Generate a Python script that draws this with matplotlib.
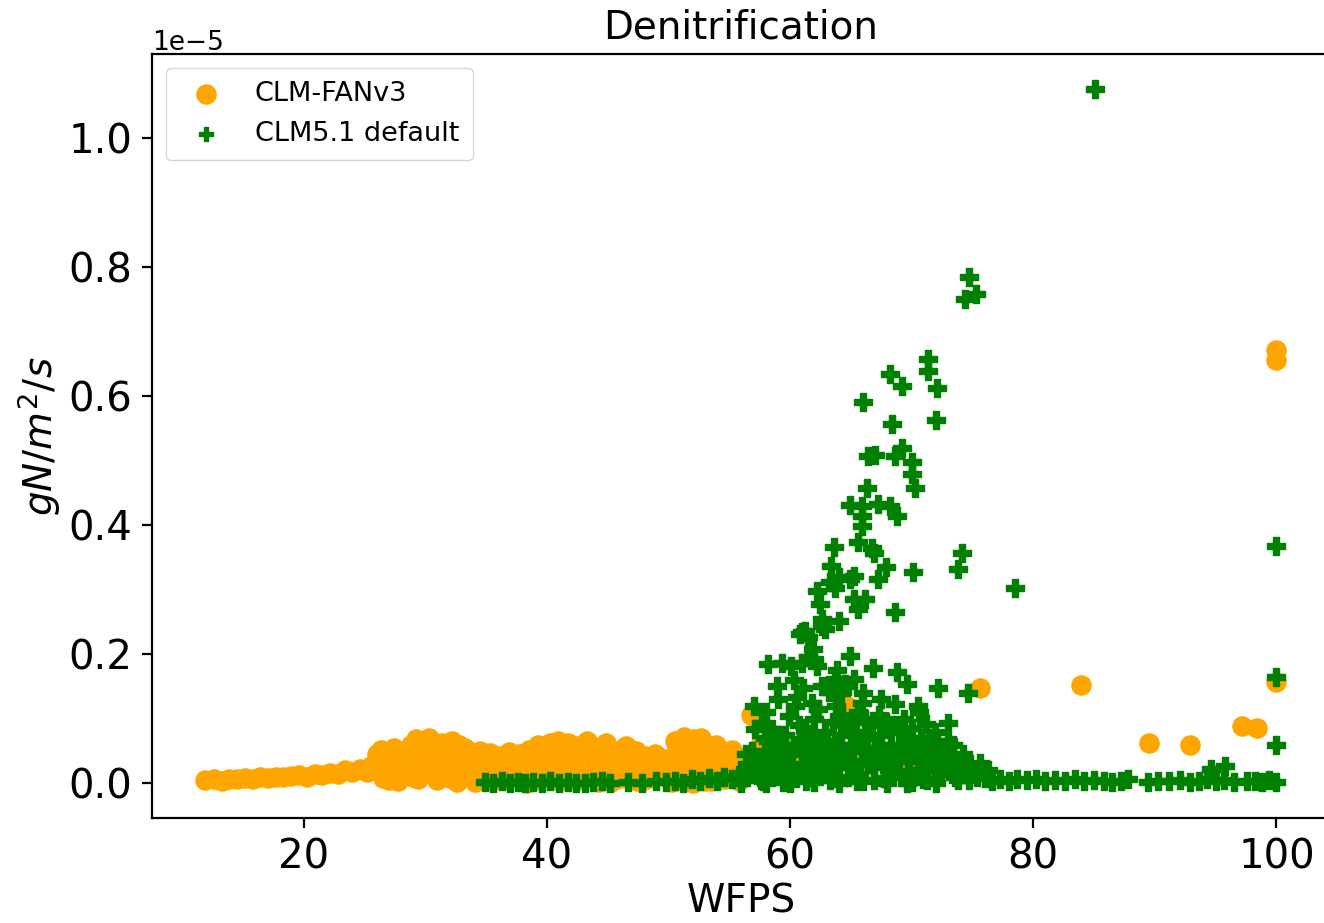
import numpy as np
import matplotlib
matplotlib.use('Agg')
import matplotlib.pyplot as plt

# CLM-FANv3 (orange circles), y in units of 1e-5 gN/m2/s
fan_x = [11.9, 12.6, 13.3, 13.9, 14.5, 15.2, 15.8, 16.4, 17.1, 17.7, 18.3, 19.0, 19.6, 20.3, 20.9,
         21.5, 22.2, 22.8, 23.4, 24.0, 24.6, 25.2, 25.6,
         26.0, 26.4, 26.8, 27.2, 27.6, 28.0, 28.4, 28.8, 29.2, 29.6, 30.0, 30.3, 30.7, 31.0, 31.4,
         31.8, 32.2, 32.6, 33.0, 33.3, 33.7, 34.1, 34.5, 34.9, 35.3, 35.7, 36.1, 36.5, 36.9, 37.3,
         37.7, 38.1, 38.5, 38.9, 39.3, 39.7, 40.1, 40.5, 40.9, 41.3, 41.7, 42.1, 42.5, 42.9, 43.3,
         43.7, 44.1, 44.5, 44.9, 45.3, 45.7, 46.1, 46.5, 46.9, 47.3, 47.7, 48.1, 48.5, 48.9, 49.3,
         49.7, 50.1, 50.5, 50.9, 51.3, 51.7, 52.1, 52.5, 52.9, 53.3, 53.7, 54.1, 54.5, 55.0, 55.5, 56.0,
         27.0, 29.0, 30.5, 32.0, 35.0, 37.0, 39.0, 40.5, 42.5, 44.0, 46.0, 48.0, 51.0, 52.0, 54.0,
         28.5, 31.5, 33.5, 36.0, 38.0, 43.5, 47.0, 49.0, 53.5, 52.7, 53.9,
         26.5, 27.8, 29.4, 30.9, 32.6, 33.9, 35.5, 36.8, 38.4, 39.8, 41.1, 42.8, 44.3, 45.9, 47.4,
         48.8, 50.3, 51.7, 53.0, 54.6, 55.8,
         26.9, 28.2, 29.8, 31.2, 32.9, 34.3, 35.9, 37.5, 39.1, 40.7, 42.3, 43.9, 45.5, 47.1, 48.7,
         50.4, 51.9, 53.1, 54.8, 56.3,
         27.4, 28.9, 30.1, 31.6, 32.8, 34.0, 35.6, 37.1, 38.7, 40.3, 41.5, 43.0, 44.7, 46.3, 47.9,
         49.5, 50.7, 52.3, 53.6, 55.2,
         56.8, 57.5, 58.5, 59.5, 60.5, 61.5, 62.5, 63.5, 64.7, 65.5, 66.5, 68.1, 69.0, 70.0, 72.0,
         75.6, 83.9, 89.5, 92.9, 97.2, 98.4, 100.0, 100.0, 100.0]
fan_y = [0.005, 0.006, 0.004, 0.007, 0.006, 0.008, 0.006, 0.009, 0.008, 0.010, 0.009, 0.011, 0.012, 0.010, 0.014,
         0.013, 0.016, 0.015, 0.020, 0.018, 0.022, 0.017, 0.028,
         0.045, 0.052, 0.040, 0.025, 0.050, 0.012, 0.035, 0.060, 0.068, 0.045, 0.020, 0.070, 0.055, 0.005, 0.062,
         0.030, 0.066, 0.048, 0.015, 0.055, 0.040, 0.002, 0.050, 0.030, 0.047, 0.018, 0.042, 0.005, 0.048, 0.028,
         0.045, 0.010, 0.052, 0.035, 0.060, 0.020, 0.055, 0.040, 0.066, 0.008, 0.062, 0.030, 0.058, 0.045, 0.065,
         0.015, 0.055, 0.035, 0.062, 0.002, 0.050, 0.025, 0.058, 0.040, 0.050, 0.012, 0.042, 0.030, 0.045, 0.020,
         0.038, 0.005, 0.065, 0.050, 0.072, 0.030, 0.068, 0.045, 0.060, 0.020, 0.055, 0.040, 0.035, 0.045, 0.030, 0.020,
         0.005, 0.010, 0.030, 0.008, 0.010, 0.015, 0.005, 0.012, 0.005, 0.025, 0.008, 0.005, 0.012, 0.000, 0.010,
         0.025, 0.045, 0.030, 0.032, 0.030, 0.045, 0.028, 0.012, 0.004, 0.070, 0.060,
         0.008, 0.003, 0.006, 0.010, 0.002, 0.012, 0.004, 0.009, 0.001, 0.011, 0.003, 0.010, 0.002, 0.012, 0.004,
         0.008, 0.002, 0.009, 0.003, 0.006, 0.004,
         0.022, 0.030, 0.028, 0.020, 0.033, 0.022, 0.028, 0.020, 0.030, 0.025, 0.020, 0.032, 0.022, 0.018, 0.022,
         0.028, 0.020, 0.030, 0.018, 0.030,
         0.055, 0.048, 0.058, 0.052, 0.060, 0.045, 0.038, 0.040, 0.048, 0.062, 0.052, 0.055, 0.048, 0.050, 0.040,
         0.032, 0.058, 0.063, 0.050, 0.052,
         0.105, 0.060, 0.040, 0.055, 0.030, 0.050, 0.065, 0.025, 0.120, 0.045, 0.030, 0.088, 0.020, 0.040, 0.015,
         0.147, 0.152, 0.062, 0.060, 0.088, 0.085, 0.157, 0.671, 0.655]

# CLM5.1 default (green plus)
clm_x = [34.9, 35.6, 36.3, 37.0, 37.6, 38.2, 38.9, 39.6, 40.3, 41.0, 41.7, 42.4, 43.1, 43.8, 44.5,
         45.2, 46.7, 47.8, 49.0, 49.8, 50.5, 51.2, 51.9, 52.6, 53.3, 54.0, 54.6, 55.2, 55.8,
         56.2, 56.5, 56.9, 57.1, 57.3, 57.6, 57.7, 57.9, 58.2, 58.5, 58.6, 58.9, 59.2, 59.4, 59.6,
         59.9, 60.0, 60.2, 60.4, 60.5, 60.8, 61.0, 61.2, 61.4, 61.6, 61.8, 62.0, 62.1, 62.3, 62.5,
         62.6, 62.9, 63.1, 63.3, 63.5, 63.7, 63.8, 64.0, 64.2, 64.4, 64.6, 64.8, 65.0, 65.2, 65.4,
         65.6, 65.7, 65.9, 66.0, 66.3, 66.5, 66.7, 66.9, 67.1, 67.4, 67.6, 67.9, 68.1, 68.3, 68.6,
         68.8, 69.0, 69.2, 69.5, 69.7, 70.0, 70.2, 70.5, 70.8, 71.0, 71.2, 71.3, 71.5, 71.8, 72.1,
         72.4, 72.5, 72.8, 73.2, 73.6, 74.0, 74.3, 74.7, 75.2, 75.6, 74.9, 58.0, 60.0, 62.0, 64.0,
         66.0, 68.0, 70.0, 72.0, 73.0,
         56.0, 56.7, 57.4, 58.1, 58.8, 59.5, 60.3, 60.9, 61.6, 62.3, 62.8, 63.4, 64.1, 64.7, 65.3,
         65.8, 66.4, 66.9, 67.5, 68.0, 68.5, 69.1, 69.8, 70.4, 71.1, 71.7, 72.3, 72.9, 73.5, 74.2,
         74.8, 75.4, 76.3, 56.4, 57.9, 59.1, 60.7, 61.9, 63.0, 64.3, 65.1, 66.2, 67.3, 68.4, 69.4,
         70.6, 71.9, 73.4, 70.9, 73.8, 69.6, 67.7, 65.5, 63.6, 61.3, 59.7, 57.8,
         57.0, 58.0, 59.0, 60.3, 62.6, 63.9, 66.0, 67.5, 70.5, 73.0, 61.8, 64.2,
         58.9, 61.1, 60.6, 59.3, 60.1, 61.0, 61.5, 61.9, 62.0, 62.2, 63.7, 64.5, 65.3, 63.2, 64.8,
         64.9, 66.8, 68.8, 69.6, 72.2, 74.6, 58.2,
         61.0, 61.5, 60.8, 61.2, 62.5, 62.6, 64.0, 62.9, 62.6, 65.3, 66.2, 65.6, 68.6, 62.2, 63.7,
         63.3, 64.0, 64.9, 65.3, 63.4, 67.9, 67.25, 70.1, 73.8, 74.1, 78.5, 63.6, 65.6, 66.7, 66.9,
         65.9, 65.9, 68.8, 64.9, 65.9, 67.25, 68.2, 66.3, 70.25, 70.0, 70.0, 66.4, 67.0, 68.6, 69.2,
         68.4, 72.0, 66.0, 68.2, 69.2, 71.35, 71.35, 72.1, 74.75, 74.35, 75.3, 85.05,
         76.0, 76.6, 77.3, 78.0, 78.7, 79.5, 80.2, 81.0, 81.8, 82.6, 83.4, 84.2, 85.0, 85.8, 86.5,
         87.2, 87.8, 89.4, 90.3, 91.2, 92.1, 92.9, 93.6, 94.3, 95.0, 95.7, 96.5, 97.6, 98.2, 98.8,
         99.4, 100.0, 94.6, 95.8, 100.0, 100.0, 100.0]
clm_y = [0.002, 0.000, 0.003, 0.001, 0.002, 0.000, 0.002, 0.001, 0.003, 0.000, 0.002, 0.001, 0.000, 0.002, 0.003,
         0.001, 0.002, 0.000, 0.003, 0.002, 0.004, 0.001, 0.006, 0.003, 0.008, 0.004, 0.010, 0.006, 0.012,
         0.010, 0.030, 0.050, 0.084, 0.020, 0.005, 0.094, 0.040, 0.065, 0.084, 0.015, 0.035, 0.055, 0.002, 0.075,
         0.104, 0.025, 0.045, 0.120, 0.008, 0.065, 0.030, 0.085, 0.050, 0.010, 0.070, 0.099, 0.035, 0.115, 0.060,
         0.015, 0.080, 0.040, 0.005, 0.095, 0.055, 0.120, 0.025, 0.075, 0.045, 0.090, 0.010, 0.060, 0.035, 0.080,
         0.110, 0.015, 0.125, 0.050, 0.070, 0.030, 0.090, 0.005, 0.055, 0.075, 0.040, 0.095, 0.020, 0.060, 0.122,
         0.045, 0.080, 0.010, 0.065, 0.035, 0.085, 0.050, 0.020, 0.070, 0.040, 0.091, 0.005, 0.055, 0.030, 0.066,
         0.015, 0.045, 0.025, 0.040, 0.010, 0.030, 0.015, 0.005, 0.020, 0.032, 0.019, 0.000, 0.000, 0.002, 0.000,
         0.003, 0.000, 0.002, 0.000, 0.066,
         0.000, 0.015, 0.035, 0.025, 0.050, 0.030, 0.060, 0.015, 0.040, 0.025, 0.050, 0.030, 0.060, 0.035, 0.020,
         0.065, 0.045, 0.025, 0.060, 0.040, 0.025, 0.055, 0.015, 0.045, 0.025, 0.060, 0.040, 0.055, 0.025, 0.045,
         0.030, 0.010, 0.020, 0.045, 0.070, 0.075, 0.090, 0.055, 0.065, 0.105, 0.095, 0.100, 0.105, 0.090, 0.100,
         0.110, 0.080, 0.060, 0.006, 0.005, 0.000, 0.008, 0.004, 0.008, 0.003, 0.010, 0.004,
         0.120, 0.110, 0.130, 0.160, 0.150, 0.175, 0.140, 0.130, 0.120, 0.094, 0.125, 0.140,
         0.151, 0.148, 0.133, 0.187, 0.182, 0.187, 0.195, 0.208, 0.192, 0.182, 0.161, 0.153, 0.161, 0.141, 0.151,
         0.197, 0.179, 0.172, 0.153, 0.148, 0.140, 0.184,
         0.234, 0.226, 0.231, 0.236, 0.278, 0.254, 0.252, 0.239, 0.244, 0.285, 0.285, 0.270, 0.266, 0.298, 0.303,
         0.311, 0.319, 0.316, 0.321, 0.337, 0.335, 0.316, 0.327, 0.332, 0.356, 0.302, 0.366, 0.374, 0.365, 0.357,
         0.399, 0.414, 0.414, 0.431, 0.430, 0.433, 0.430, 0.457, 0.457, 0.479, 0.497, 0.507, 0.508, 0.507, 0.520,
         0.557, 0.563, 0.590, 0.634, 0.616, 0.657, 0.639, 0.612, 0.784, 0.750, 0.758, 1.076,
         0.008, 0.004, 0.006, 0.003, 0.007, 0.005, 0.006, 0.004, 0.005, 0.003, 0.006, 0.004, 0.005, 0.003, 0.002,
         0.004, 0.006, 0.002, 0.004, 0.003, 0.005, 0.002, 0.004, 0.006, 0.003, 0.005, 0.002, 0.003, 0.004, 0.002,
         0.005, 0.002, 0.022, 0.027, 0.059, 0.164, 0.368]

fig = plt.figure(figsize=(13.24, 9.23), dpi=100)
# the right spine sits just past the image edge in the reference
ax = fig.add_axes([0.1148, 0.1138, 0.8897, 0.8277])

ax.scatter(fan_x, np.array(fan_y) * 1e-5, s=190, marker='o', color='orange', label='CLM-FANv3')
ax.scatter(clm_x, np.array(clm_y) * 1e-5, s=170, marker='P', color='green', label='CLM5.1 default')

ax.set_xlim(7.53, 104.4)
ax.set_title('Denitrification', fontsize=28, pad=11)
ax.set_xlabel('WFPS', fontsize=28)
ax.set_ylabel('$gN/m^2/s$', fontsize=28)
ax.set_xticks([20, 40, 60, 80, 100])
ax.tick_params(labelsize=29, length=7, width=1.6, pad=7)
ax.yaxis.get_offset_text().set_fontsize(19)
for sp in ax.spines.values():
    sp.set_linewidth(1.6)
ax.spines['right'].set_visible(False)

leg = ax.legend(loc='upper left', fontsize=19.5, borderpad=0.5)
leg.legend_handles[1].set_sizes([90])

plt.savefig('out.png', dpi=100)
plt.close()
